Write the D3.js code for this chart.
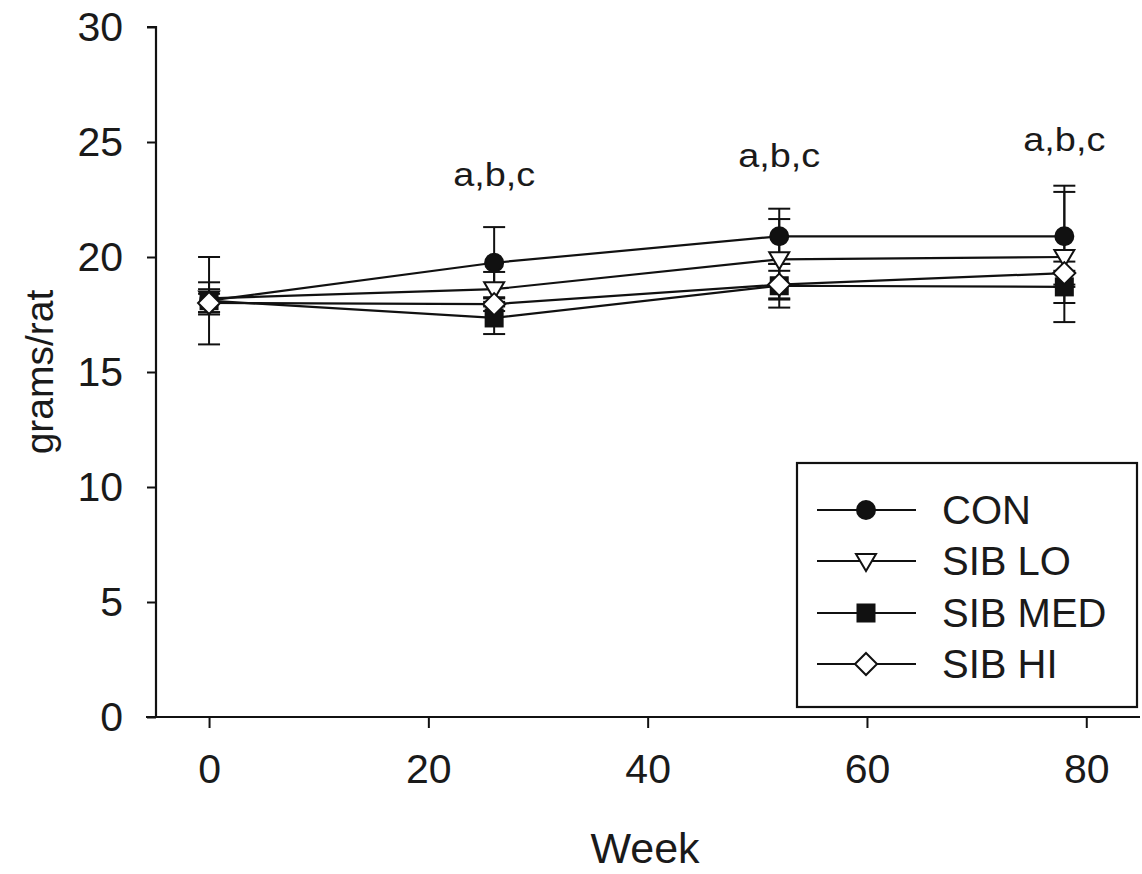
<!DOCTYPE html>
<meta charset="utf-8">
<style>
body{margin:0;background:#fff;font-family:"Liberation Sans",Arial,sans-serif;}
</style>
<body>
<div id="container"></div>
<script src="https://d3js.org/d3.v7.min.js"></script>
<script>

var weeks = [0, 26, 52, 78];
var seriesNames = ["CON", "SIB LO", "SIB MED", "SIB HI"];
var conMean  = [18.1, 19.75, 20.9, 20.9];
var conErr   = [1.9, 1.55, 1.2, 2.2];
var loMean   = [18.2, 18.6, 19.9, 20.0];
var loErr    = [0.7, 0.75, 1.75, 2.83];
var medMean  = [18.1, 17.35, 18.75, 18.7];
var medErr   = [0.5, 0.7, 0.95, 0.7];
var hiMean   = [18.0, 17.95, 18.8, 19.3];
var hiErr    = [0.4, 0.3, 0.6, 0.5];
var xTicks = [0, 20, 40, 60, 80];
var yTicks = [0, 5, 10, 15, 20, 25, 30];
var noteWeeks = [26, 52, 78];
var noteValues = [23.1, 23.9, 24.6];
var noteText = "a,b,c";

var width = 1142,
    height = 874;

var svg = d3.select("#container").append("svg")
    .attr("width", width)
    .attr("height", height);

var x = d3.scaleLinear().domain([-5.75, 84.9]).range([146, 1140]);
var y = d3.scaleLinear().domain([0, 30]).range([717, 27]);

var series = [
  {name: seriesNames[0], mean: conMean, err: conErr, shape: "circle"},
  {name: seriesNames[1], mean: loMean,  err: loErr,  shape: "triangle"},
  {name: seriesNames[2], mean: medMean, err: medErr, shape: "square"},
  {name: seriesNames[3], mean: hiMean,  err: hiErr,  shape: "diamond"}
];

// axes
var xAxis = svg.append("g")
    .attr("transform", "translate(0,717)")
    .call(d3.axisBottom(x).tickValues(xTicks).tickSize(11).tickPadding(26).tickFormat(d3.format("d")));
var yAxis = svg.append("g")
    .attr("transform", "translate(156,0)")
    .call(d3.axisLeft(y).tickValues(yTicks).tickSize(9).tickPadding(24).tickSizeOuter(9));

[xAxis, yAxis].forEach(function(a) {
  a.select(".domain").attr("stroke", "#111").attr("stroke-width", 2.2);
  a.selectAll(".tick line").attr("stroke", "#111").attr("stroke-width", 2);
  a.selectAll("text").attr("fill", "#1a1a1a")
    .style("font-family", "'Liberation Sans',Arial,sans-serif").style("font-size", "41px");
});
xAxis.select(".domain").attr("d", "M146,0H1140");
yAxis.select(".domain").attr("d", "M-9,27H0V717");

svg.append("text")
    .attr("x", 645).attr("y", 863)
    .attr("text-anchor", "middle")
    .style("font-size", "43px").attr("fill", "#1a1a1a")
    .text("Week");

svg.append("text")
    .attr("transform", "translate(53,372) rotate(-90)")
    .attr("text-anchor", "middle")
    .style("font-size", "39px").attr("fill", "#1a1a1a")
    .text("grams/rat");

// marker shapes
function marker(g, shape, cx, cy) {
  var s;
  if (shape == "circle") {
    s = g.append("circle").attr("cx", cx).attr("cy", cy).attr("r", 9).attr("fill", "#111");
  } else if (shape == "triangle") {
    s = g.append("path").attr("d", "M" + (cx - 10) + "," + (cy - 7) + "L" + (cx + 10) + "," + (cy - 7) + "L" + cx + "," + (cy + 10) + "Z")
      .attr("fill", "#fff");
  } else if (shape == "square") {
    s = g.append("rect").attr("x", cx - 8.5).attr("y", cy - 8.5).attr("width", 17).attr("height", 17).attr("fill", "#111");
  } else {
    s = g.append("path").attr("d", "M" + cx + "," + (cy - 11) + "L" + (cx + 11) + "," + cy + "L" + cx + "," + (cy + 11) + "L" + (cx - 11) + "," + cy + "Z")
      .attr("fill", "#fff");
  }
  s.attr("stroke", "#111").attr("stroke-width", 2);
}

var line = d3.line()
    .x(function(d, i) { return x(weeks[i]); })
    .y(function(d) { return y(d); });

var plot = svg.append("g");

series.forEach(function(s) {
  plot.append("path")
      .attr("d", line(s.mean))
      .attr("fill", "none")
      .attr("stroke", "#111")
      .attr("stroke-width", 2.2);
});

series.forEach(function(s) {
  s.mean.forEach(function(m, i) {
    var cx = x(weeks[i]);
    var top = y(m + s.err[i]), bot = y(m - s.err[i]);
    plot.append("line").attr("x1", cx).attr("x2", cx).attr("y1", top).attr("y2", bot)
        .attr("stroke", "#111").attr("stroke-width", 2);
    [top, bot].forEach(function(v) {
      plot.append("line").attr("x1", cx - 11).attr("x2", cx + 11).attr("y1", v).attr("y2", v)
          .attr("stroke", "#111").attr("stroke-width", 2);
    });
  });
});

series.forEach(function(s) {
  s.mean.forEach(function(m, i) {
    marker(plot, s.shape, x(weeks[i]), y(m));
  });
});

// significance notes
svg.selectAll(".note").data(noteWeeks).enter().append("text")
    .attr("class", "note")
    .attr("x", function(d) { return x(d); })
    .attr("y", function(d, i) { return y(noteValues[i]); })
    .attr("text-anchor", "middle")
    .attr("textLength", 82).attr("lengthAdjust", "spacingAndGlyphs")
    .style("font-size", "34px").attr("fill", "#1a1a1a")
    .text(noteText);

// legend
var legend = svg.append("g");
legend.append("rect")
    .attr("x", 797).attr("y", 463).attr("width", 340).attr("height", 244)
    .attr("fill", "#fff").attr("stroke", "#111").attr("stroke-width", 2.2);

var rowY = [510, 561, 613, 664];
series.forEach(function(s, i) {
  legend.append("line").attr("x1", 817).attr("x2", 916).attr("y1", rowY[i]).attr("y2", rowY[i])
      .attr("stroke", "#111").attr("stroke-width", 2);
  marker(legend, s.shape, 866, rowY[i]);
  legend.append("text")
      .attr("x", 942).attr("y", rowY[i]).attr("dy", "0.36em")
      .style("font-size", "40px").attr("fill", "#1a1a1a")
      .text(s.name);
});

</script>
</body>
</html>
